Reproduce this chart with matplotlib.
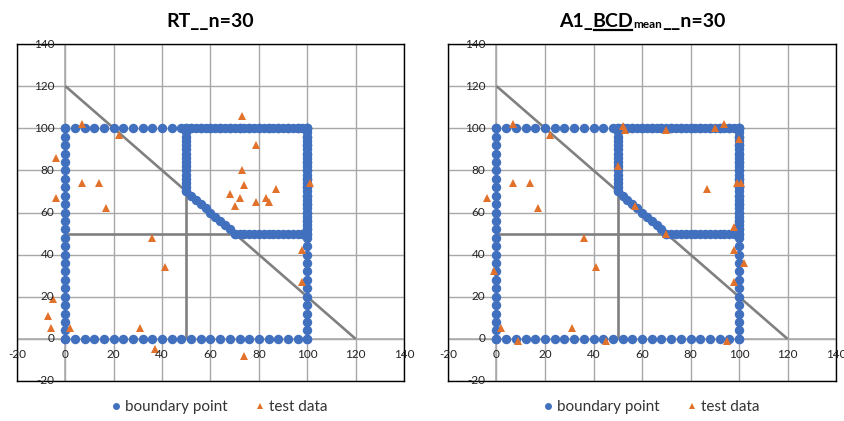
import matplotlib
matplotlib.use("Agg")
import matplotlib.pyplot as plt
from matplotlib.lines import Line2D
from matplotlib.transforms import IdentityTransform

plt.rcParams['font.family'] = ['Lato', 'DejaVu Sans']

# ---------------- data ----------------
# outer square boundary positions (step ~4)
outer_pos = [0, 4, 8, 12, 16, 20, 24, 28, 32, 36, 40, 44, 48, 52, 56, 60,
             64, 68, 72, 76, 80, 84, 88, 92, 96, 100]
# inner polygon boundary positions (step ~2)
inner_vert_y = [70, 72, 74, 76, 78, 80, 82, 84, 86, 88, 90, 92, 94, 96, 98, 100]
inner_top_x = [50, 52, 54, 56, 58, 60, 62, 64, 66, 68, 70, 72, 74, 76, 78, 80,
               82, 84, 86, 88, 90, 92, 94, 96, 98, 100]
inner_right_y = [50, 52, 54, 56, 58, 60, 62, 64, 66, 68, 70, 72, 74, 76, 78, 80,
                 82, 84, 86, 88, 90, 92, 94, 96, 98, 100]
inner_bottom_x = [70, 72, 74, 76, 78, 80, 82, 84, 86, 88, 90, 92, 94, 96, 98, 100]
diag_x = [50, 52, 54, 56, 58, 60, 62, 64, 66, 68, 70]
diag_y = [70, 68, 66, 64, 62, 60, 58, 56, 54, 52, 50]

# test data, RT
rt_x = [7, 22, -4, 7, 14, -4, 17, 36, 73, 79, 73, 74, 68, 72, 70, 79, 83, 84,
        87, 101, 41, -5, -7, -6, 2, 31, 37, 98, 98, 74]
rt_y = [102, 97, 86, 74, 74, 67, 62, 48, 106, 92, 80, 73, 69, 67, 63, 65, 67, 65,
        71, 74, 34, 19, 11, 5, 5, 5, -5, 42, 27, -8]

# test data, A1_BCDmean
bcd_x = [7, 22, -4, 7, 14, 17, 36, 52, 53, 50, 57, 70, 90, 94, 100, 87, 99, 101,
         98, 70, 41, -1, 2, 9, 31, 45, 98, 102, 98, 95]
bcd_y = [102, 97, 67, 74, 74, 62, 48, 101, 99, 82, 63, 99, 100, 102, 95, 71, 74, 74,
         53, 50, 34, 32, 5, -1, 5, -1, 42, 36, 27, -1]

# reference (gray) lines
diag_line_x = [0, 120]
diag_line_y = [120, 0]
vert_line_x = [50, 50]
vert_line_y = [0, 70]
horiz_line_x = [0, 70]
horiz_line_y = [50, 50]

ticks = [-20, 0, 20, 40, 60, 80, 100, 120, 140]
legend_labels = ["boundary point", "test data"]

# assemble boundary points
bnd_x = ([0] * len(outer_pos) + outer_pos + outer_pos + [100] * len(outer_pos)
         + [50] * len(inner_vert_y) + inner_top_x + [100] * len(inner_right_y)
         + inner_bottom_x + diag_x)
bnd_y = (outer_pos + [0] * len(outer_pos) + [100] * len(outer_pos) + outer_pos
         + inner_vert_y + [100] * len(inner_top_x) + inner_right_y
         + [50] * len(inner_bottom_x) + diag_y)

BLUE = "#4170BF"
ORANGE = "#E2712B"
GRID = "#a8a8a8"
LINE = "#808080"

W, H = 845, 421
fig = plt.figure(figsize=(W / 100, H / 100), dpi=100)


def make_axes(left_px, right_px, tx, ty, legend_cx):
    top_px, bot_px = 44, 381
    ax = fig.add_axes([left_px / W, 1 - bot_px / H,
                       (right_px - left_px) / W, (bot_px - top_px) / H])
    ax.set_xlim(-20, 140)
    ax.set_ylim(-20, 140)
    ax.set_xticks(ticks)
    ax.set_yticks(ticks)
    ax.tick_params(length=0, labelbottom=False, labelleft=False)
    ax.grid(True, color=GRID, linewidth=1.0, zorder=0)
    ax.set_axisbelow(True)
    for s in ax.spines.values():
        s.set_color("black")
        s.set_linewidth(1.0)
    ax.axhline(0, color=GRID, linewidth=1.1, zorder=1)
    ax.axvline(0, color=GRID, linewidth=1.1, zorder=1)
    for v in ticks:
        ax.annotate(str(v), (v, 0), xytext=(0, -16), textcoords="offset pixels",
                    ha="center", va="center", fontsize=8.5, color="#222222",
                    annotation_clip=False, zorder=6)
        ax.annotate(str(v), (0, v), xytext=(-11, 0), textcoords="offset pixels",
                    ha="right", va="center", fontsize=8.5, color="#222222",
                    annotation_clip=False, zorder=6)
    for lx, ly in ((diag_line_x, diag_line_y), (vert_line_x, vert_line_y),
                   (horiz_line_x, horiz_line_y)):
        ax.plot(lx, ly, color=LINE, linewidth=1.9, zorder=2, solid_capstyle="butt")
    ax.plot(bnd_x, bnd_y, linestyle="none", marker="o", markersize=6.8,
            color=BLUE, markeredgewidth=0, zorder=3)
    ax.plot(tx, ty, linestyle="none", marker="^", markersize=6.0,
            color=ORANGE, markeredgewidth=0, zorder=4)
    handles = [Line2D([], [], linestyle="none", marker="o", markersize=5,
                      color=BLUE, markeredgewidth=0),
               Line2D([], [], linestyle="none", marker="^", markersize=5,
                      color=ORANGE, markeredgewidth=0)]
    fig.legend(handles, legend_labels, loc="center",
               bbox_to_anchor=(legend_cx / W, 1 - 407 / H), ncol=2, frameon=False,
               fontsize=11, handletextpad=0.1, columnspacing=1.6,
               handlelength=1.0, borderpad=0, labelcolor="#333333")
    return ax


make_axes(17, 404, rt_x, rt_y, 218)
make_axes(448, 836, bcd_x, bcd_y, 650)

# left title
fig.text(210.5, H - 27, "RT__n=30", transform=IdentityTransform(),
         ha="center", va="baseline", fontsize=14, fontweight="bold")

# right title, composed: A1_ + underlined BCD + subscript mean + __n=30
r = fig.canvas.get_renderer()
parts = [("A1_", 14, 0), ("BCD", 14, 0), ("mean", 8.5, -1.5), ("__n=30", 14, 0)]
objs = []
widths = []
for s, sz, dy in parts:
    t = fig.text(0, 0, s, transform=IdentityTransform(), ha="left",
                 va="baseline", fontsize=sz, fontweight="bold")
    objs.append(t)
    widths.append(t.get_window_extent(renderer=r).width)
cx = 642
x = cx - sum(widths) / 2
base = H - 27
for (s, sz, dy), t, w in zip(parts, objs, widths):
    t.set_position((x, base + dy))
    if s == "BCD":
        fig.add_artist(Line2D([x + 1, x + w - 1], [base - 2.5, base - 2.5],
                              transform=IdentityTransform(), color="black",
                              linewidth=1.6))
    x += w

fig.savefig("out.png", dpi=100)
